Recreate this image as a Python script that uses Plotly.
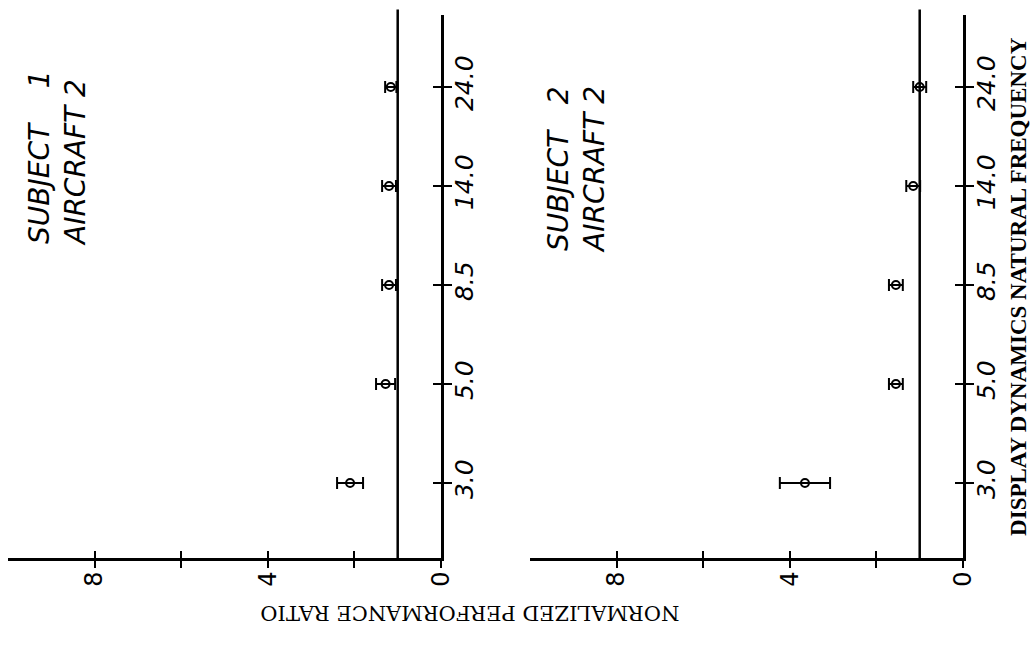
import plotly.graph_objects as go

# ---- data ----
categories = ["3.0", "5.0", "8.5", "14.0", "24.0"]          # display dynamics natural frequency
s1_ratio = [2.10, 1.28, 1.20, 1.20, 1.16]                    # subject 1, aircraft 2
s1_err = [0.30, 0.22, 0.16, 0.16, 0.13]
s2_ratio = [3.65, 1.55, 1.55, 1.15, 1.00]                    # subject 2, aircraft 2
s2_err = [0.58, 0.16, 0.16, 0.16, 0.15]
ratio_ticks = [0, 2, 4, 6, 8]
ratio_ticktext = ["0", "", "4", "", "8"]
reference_ratio = 1.0
panel_titles = ["SUBJECT\u00a0\u00a0\u00a0\u00a01<br>AIRCRAFT 2", "SUBJECT\u00a0\u00a0\u00a02<br>AIRCRAFT 2"]

pos = list(range(1, len(categories) + 1))

fig = go.Figure()
panels = [(s1_ratio, s1_err, "x", "y", "x3", "y3"), (s2_ratio, s2_err, "x2", "y2", "x4", "y4")]
for vals, errs, xa, ya, xo, yo in panels:
    fig.add_trace(go.Scatter(
        x=vals, y=pos, mode="markers", xaxis=xa, yaxis=ya, showlegend=False,
        marker=dict(symbol="circle-open", size=8, color="black", line=dict(width=2, color="black")),
        error_x=dict(type="data", array=errs, color="black", thickness=2, width=6),
        hoverinfo="skip"))
    # invisible trace to activate the overlay axes (for ticks crossing the axis lines)
    fig.add_trace(go.Scatter(x=vals, y=pos, mode="markers", xaxis=xo, yaxis=yo, showlegend=False,
                             marker=dict(opacity=0), hoverinfo="skip"))
    fig.add_shape(type="line", xref=xa, yref=f"{ya} domain", x0=reference_ratio, x1=reference_ratio,
                  y0=0, y1=1.01, line=dict(color="black", width=2.5))

xr = [10, 0]
yr = [0.242, 5.727]
xbase = dict(range=xr, tickmode="array", tickvals=ratio_ticks, showgrid=False, zeroline=False)
ybase = dict(range=yr, tickmode="array", tickvals=pos, showgrid=False, zeroline=False, side="right")

xmain = dict(**xbase, ticktext=ratio_ticktext, showline=True, linewidth=3, linecolor="black",
             ticks="outside", ticklen=7, tickwidth=2, tickcolor="black", tickangle=-90,
             ticklabelstandoff=-6,
             tickfont=dict(size=24, family="DejaVu Sans", color="black"))
xover = dict(**xbase, showticklabels=False, showline=False, ticks="inside", ticklen=7,
             tickwidth=2, tickcolor="black")
ymain = dict(**ybase, ticktext=categories, showline=True, linewidth=3, linecolor="black",
             ticks="outside", ticklen=8, tickwidth=2, tickcolor="black", tickangle=-90,
             ticklabelstandoff=-9,
             tickfont=dict(size=25, family="DejaVu Sans", style="italic", color="black"))
yover = dict(**ybase, showticklabels=False, showline=False, ticks="inside", ticklen=8,
             tickwidth=2, tickcolor="black")

fig.update_layout(
    width=1033, height=646,
    margin=dict(l=8, r=70, t=15, b=88),
    paper_bgcolor="white", plot_bgcolor="white",
    xaxis=dict(**xmain, domain=[0, 0.4534], anchor="y"),
    xaxis2=dict(**xmain, domain=[0.5466, 1], anchor="y2"),
    xaxis3=dict(**xover, overlaying="x", anchor="y3"),
    xaxis4=dict(**xover, overlaying="x2", anchor="y4"),
    yaxis=dict(**ymain, domain=[0, 1], anchor="x"),
    yaxis2=dict(**ymain, domain=[0, 1], anchor="x2"),
    yaxis3=dict(**yover, overlaying="y", anchor="x3"),
    yaxis4=dict(**yover, overlaying="y2", anchor="x4"),
)

fig.add_annotation(text="DISPLAY DYNAMICS NATURAL FREQUENCY", xref="paper", yref="paper",
                   x=1.058, y=0.50, textangle=-90, showarrow=False, xanchor="center", yanchor="middle",
                   font=dict(family="Liberation Serif", size=23, weight="bold", color="black"))
fig.add_annotation(text="NORMALIZED PERFORMANCE RATIO", xref="paper", yref="paper",
                   x=0.484, y=-0.10, textangle=180, showarrow=False, xanchor="center", yanchor="middle",
                   font=dict(family="DejaVu Serif", size=21, color="black"))
for txt, xp, yp in zip(panel_titles, [0.0513, 0.5958], [0.7366, 0.7164]):
    fig.add_annotation(text=txt, xref="paper", yref="paper", x=xp, y=yp, textangle=-90,
                       showarrow=False, align="left", xanchor="center", yanchor="middle",
                       font=dict(family="DejaVu Sans", size=28, style="italic", color="black"))

fig.write_html("out.html")
